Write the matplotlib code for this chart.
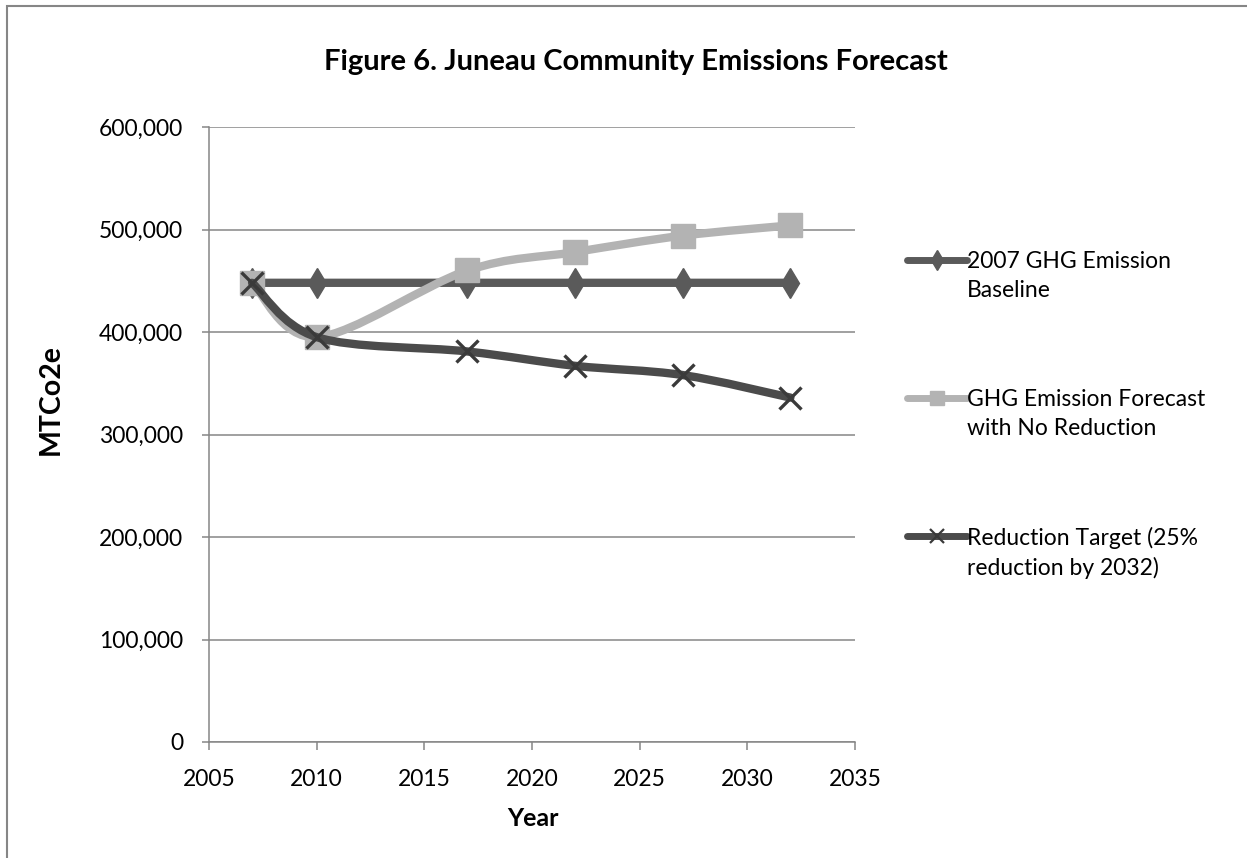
import numpy as np
import matplotlib
matplotlib.use("Agg")
import matplotlib.pyplot as plt
from matplotlib.path import Path
from matplotlib.patches import PathPatch, Rectangle
from matplotlib.lines import Line2D
from matplotlib.ticker import FuncFormatter

plt.rcParams['font.family'] = ['Lato', 'DejaVu Sans']

# data
years = [2007, 2010, 2017, 2022, 2027, 2032]
baseline = [448000, 448000, 448000, 448000, 448000, 448000]
forecast = [448000, 395000, 460000, 478000, 494000, 504000]
reduction = [448000, 395000, 381000, 367000, 358000, 336000]

labels = ["2007 GHG Emission\nBaseline",
          "GHG Emission Forecast\nwith No Reduction",
          "Reduction Target (25%\nreduction by 2032)"]

W, H = 1247, 858
GRID = "#868686"
DARK = "#5a5a5a"
LIGHT = "#b3b3b3"
REDC = "#4b4b4b"


def px(x, y):
    return x / W, 1 - y / H


def smooth_path(x, y):
    # excel-style smoothed line as cubic bezier segments (catmull-rom)
    p = np.column_stack([x, y]).astype(float)
    ext = np.vstack([p[0], p, p[-1]])
    verts = [p[0]]
    codes = [Path.MOVETO]
    for i in range(len(p) - 1):
        p0, p1, p2, p3 = ext[i], ext[i + 1], ext[i + 2], ext[i + 3]
        c1 = p1 + (p2 - p0) / 6
        c2 = p2 - (p3 - p1) / 6
        verts += [c1, c2, p2]
        codes += [Path.CURVE4] * 3
    return Path(verts, codes)


fig = plt.figure(figsize=(W / 100, H / 100), dpi=100)
ax = fig.add_axes([209 / W, 1 - 742 / H, (855 - 209) / W, (742 - 127) / H])

# chart border
fig.patches.append(Rectangle(px(7, 900), 2.0, (900 - 6) / H, transform=fig.transFigure,
                             fill=False, edgecolor=GRID, lw=1.5, clip_on=False))

series = [
    (baseline, DARK, dict(marker='d', markersize=15, markerfacecolor=DARK, markeredgecolor=DARK)),
    (forecast, LIGHT, dict(marker='s', markersize=17, markerfacecolor=LIGHT, markeredgecolor=LIGHT)),
    (reduction, REDC, dict(marker='x', markersize=16, markeredgecolor="#3a3a3a", markeredgewidth=2.4)),
]

z = 3
for vals, col, mk in series:
    ax.add_patch(PathPatch(smooth_path(years, vals), facecolor='none', edgecolor=col,
                           lw=6, capstyle='round', joinstyle='round', zorder=z))
    ax.plot(years, vals, linestyle='none', zorder=z + 1, **mk)
    z += 2

ax.set_xlim(2005, 2035)
ax.set_ylim(0, 600000)
ax.set_xticks(range(2005, 2036, 5))
ax.set_yticks(range(0, 600001, 100000))
ax.yaxis.set_major_formatter(FuncFormatter(lambda v, p: f"{int(v):,}"))
ax.grid(axis='y', color=GRID, lw=1.1)
ax.set_axisbelow(True)
for s in ['top', 'right']:
    ax.spines[s].set_visible(False)
for s in ['left', 'bottom']:
    ax.spines[s].set_color(GRID)
    ax.spines[s].set_linewidth(1.1)
ax.tick_params(axis='y', length=5, width=1.1, color=GRID, pad=13.5, labelsize=16.5)
ax.tick_params(axis='x', length=5.5, width=1.1, color=GRID, pad=14, labelsize=16.5)

fig.text(*px(636, 62), "Figure 6. Juneau Community Emissions Forecast", ha='center', va='center',
         fontsize=21, fontweight='bold')
fig.text(*px(51, 400), "MTCo2e", rotation=90, ha='center', va='center', fontsize=20.5, fontweight='bold')
fig.text(*px(533, 818), "Year", ha='center', va='center', fontsize=18, fontweight='bold')

handles = [
    Line2D([], [], color=DARK, lw=5, solid_capstyle='round', marker='d', markersize=10,
           markerfacecolor=DARK, markeredgecolor=DARK),
    Line2D([], [], color=LIGHT, lw=5, solid_capstyle='round', marker='s', markersize=10,
           markerfacecolor=LIGHT, markeredgecolor=LIGHT),
    Line2D([], [], color=REDC, lw=5, solid_capstyle='round', marker='x', markersize=10,
           markeredgecolor="#3a3a3a", markeredgewidth=1.6),
]
leg = fig.legend(handles, labels, loc='upper left', bbox_to_anchor=px(907, 251),
                 frameon=False, fontsize=16.5, handlelength=2.6, handleheight=1.1,
                 handletextpad=0.0, borderpad=0, borderaxespad=0, labelspacing=3.85)
for t in leg.get_texts():
    t.set_linespacing(1.45)
# put the handle next to the first line of each label
for col in leg._legend_handle_box.get_children():
    for row in col.get_children():
        row.align = 'top'

fig.savefig("out.png", dpi=100)
